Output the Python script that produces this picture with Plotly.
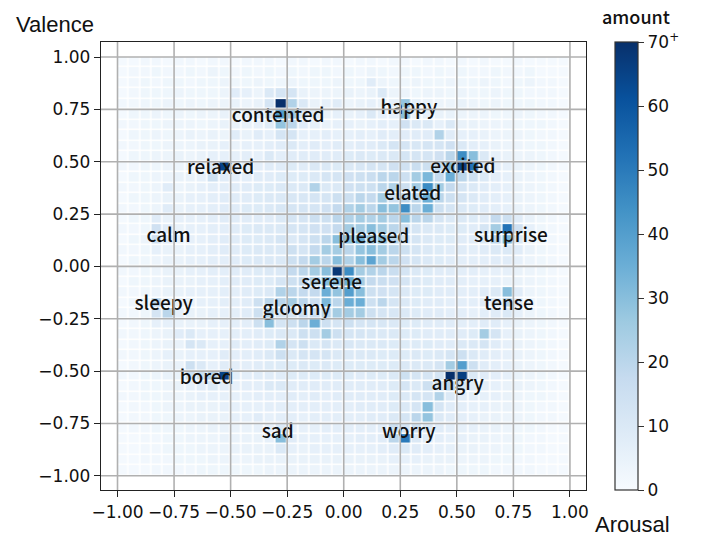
import plotly.graph_objects as go

# ---- data -------------------------------------------------------------
# bin centres (Arousal on x, Valence on y), 40 x 40 grid of width 0.05
arousal_centers = [round(-0.975 + 0.05 * i, 3) for i in range(40)]
valence_centers_top_down = [round(0.975 - 0.05 * k, 3) for k in range(40)]

# counts per cell, rows listed from top (valence 0.975) to bottom (-0.975)
counts_top_down = [
    [1,1,2,2,1,2,2,1,2,2,1,2,2,2,1,2,2,1,2,2,1,2,2,1,2,2,1,2,2,1,2,1,2,1,1,2,1,1,1,1],
    [1,2,2,3,2,2,3,2,4,3,2,3,2,3,2,3,2,3,3,2,3,2,4,3,2,3,3,2,3,2,3,2,2,3,2,2,3,1,1,1],
    [1,2,3,2,3,3,2,3,3,4,3,3,4,3,3,4,3,3,3,4,3,3,8,4,3,3,4,3,3,4,3,3,4,3,2,3,4,2,2,1],
    [1,2,3,3,3,4,3,3,3,4,8,6,4,10,12,12,5,4,4,4,5,4,5,10,4,4,3,4,4,3,4,3,3,4,3,3,2,2,2,1],
    [2,2,3,3,4,3,4,3,4,4,5,4,5,12,72,22,10,5,6,8,4,5,6,5,6,28,6,5,4,4,5,4,3,4,3,3,3,2,2,1],
    [1,3,3,4,3,4,3,4,4,5,4,5,8,12,40,25,10,8,5,6,5,6,10,6,6,30,5,6,5,5,4,4,4,3,3,4,3,2,2,1],
    [2,2,3,3,4,4,4,3,4,5,5,5,6,8,28,20,8,6,5,6,6,5,6,7,6,14,10,10,6,10,5,5,4,4,4,3,3,3,2,1],
    [1,3,3,4,3,4,5,4,5,4,8,5,8,6,12,12,6,6,7,6,6,7,6,8,7,8,8,8,22,8,6,6,5,4,4,4,3,2,2,1],
    [2,2,3,3,4,4,4,5,5,6,5,6,6,7,8,10,7,8,7,8,7,8,8,10,12,12,11,12,12,14,10,7,6,5,4,4,3,3,2,1],
    [1,3,3,4,4,5,4,5,6,6,6,7,6,10,7,8,8,8,8,8,9,10,9,10,10,12,12,12,14,20,45,30,10,6,5,4,4,3,2,1],
    [2,2,3,3,4,4,5,6,10,65,8,7,7,8,8,9,8,10,10,9,10,11,12,12,14,14,16,15,18,30,65,52,12,8,6,5,4,3,2,1],
    [1,3,3,4,4,5,5,6,15,8,7,7,8,8,9,9,9,10,12,12,14,15,16,20,20,15,25,32,18,35,20,15,10,7,6,5,4,3,2,1],
    [2,2,3,4,8,4,5,6,7,7,8,8,9,9,10,10,10,22,10,10,14,15,15,20,22,15,25,45,25,18,12,10,8,7,6,5,4,3,2,1],
    [1,3,3,4,5,5,6,6,7,8,8,8,9,10,10,11,11,12,12,15,15,20,18,25,15,20,20,35,20,15,12,10,8,7,6,5,4,3,2,1],
    [2,2,3,4,8,5,6,6,7,8,8,9,9,10,11,12,12,12,14,18,22,25,20,30,28,45,20,35,15,12,10,9,8,7,6,5,4,3,2,1],
    [1,3,3,8,5,6,6,6,7,8,8,8,8,8,10,12,12,15,15,20,22,25,22,25,20,30,20,20,12,10,10,9,8,18,15,8,5,3,2,1],
    [2,2,3,14,8,5,6,6,7,7,8,9,10,10,10,12,12,14,14,18,25,25,30,25,20,15,12,10,10,9,9,8,12,25,52,14,6,3,2,1],
    [1,3,4,14,8,5,6,6,7,8,8,9,9,10,12,10,12,15,20,30,30,35,28,30,20,14,12,10,9,9,8,8,10,20,32,10,5,3,2,1],
    [2,2,3,6,5,5,6,6,7,8,8,9,10,10,10,15,12,18,25,25,20,28,30,25,20,15,12,10,9,8,8,7,8,10,10,8,5,3,2,1],
    [1,3,3,4,5,5,6,6,7,7,8,9,10,10,10,15,18,25,20,30,22,30,38,25,20,14,12,10,9,8,7,7,7,8,8,6,4,3,2,1],
    [2,2,3,4,5,5,6,6,7,7,8,8,9,10,10,18,20,25,30,68,45,25,22,20,16,12,10,9,8,8,7,7,6,6,6,5,4,3,2,1],
    [1,3,3,4,5,5,5,6,6,7,8,8,9,9,12,15,18,22,30,30,35,25,18,16,14,12,10,9,8,8,7,6,6,6,5,5,4,3,2,1],
    [2,2,3,4,5,5,6,6,6,7,7,8,9,10,22,20,18,18,35,28,40,30,15,14,12,10,9,9,8,8,7,7,8,10,30,8,4,3,2,1],
    [1,3,3,20,6,5,5,6,6,7,7,8,15,20,20,25,20,15,32,20,35,35,15,20,12,10,9,8,8,7,7,7,8,10,20,8,4,3,2,1],
    [2,2,3,12,20,6,5,5,6,6,7,8,15,22,12,12,15,15,20,25,25,25,15,12,11,10,9,8,8,7,7,6,7,8,10,6,4,3,2,1],
    [1,2,3,6,6,5,5,5,6,6,7,7,15,30,12,15,20,35,15,12,15,12,12,11,10,9,9,8,8,8,7,7,8,8,6,5,4,3,2,1],
    [2,2,3,4,5,8,10,6,6,6,7,7,8,9,10,10,15,15,25,15,12,12,11,10,10,9,9,8,8,8,8,9,25,12,6,5,4,3,2,1],
    [1,2,3,4,5,5,12,10,6,6,8,7,8,9,22,12,15,10,12,10,11,10,10,10,9,9,9,9,8,8,10,10,12,8,6,5,4,3,2,1],
    [2,2,3,4,6,5,6,6,6,8,7,7,8,10,15,10,12,12,12,10,10,10,10,9,9,9,10,9,10,12,15,10,8,7,6,5,4,3,2,1],
    [1,2,3,4,5,5,15,10,6,8,7,7,8,9,9,9,10,9,10,9,9,9,9,9,9,10,10,10,12,25,40,15,8,7,6,5,4,3,2,1],
    [2,2,3,4,5,5,15,15,20,65,7,7,8,8,8,9,9,9,9,9,9,8,9,9,10,15,12,12,12,72,66,10,8,7,6,5,4,3,2,1],
    [1,2,3,3,4,5,6,8,10,8,6,7,7,10,10,8,8,8,8,8,8,8,8,8,9,12,10,15,12,20,12,8,7,6,5,5,4,3,2,1],
    [2,2,3,3,4,4,5,6,6,6,6,6,7,7,7,8,7,8,7,8,8,8,8,8,9,10,12,12,22,10,8,7,6,6,5,4,3,3,2,1],
    [1,2,2,3,4,4,5,5,5,6,6,6,6,7,7,7,7,7,7,7,7,8,8,8,9,10,12,30,12,8,7,6,6,5,5,4,3,2,2,1],
    [1,2,2,3,3,4,4,5,5,5,6,6,8,6,7,7,6,7,7,7,7,7,8,8,10,12,20,28,10,8,7,6,5,5,4,4,3,2,2,1],
    [1,2,2,3,3,3,4,4,5,5,5,5,6,6,10,6,6,6,7,7,7,7,7,8,15,12,15,10,8,7,6,6,5,5,4,3,3,2,1,1],
    [1,1,2,2,3,3,4,4,4,5,5,5,5,6,30,8,6,6,6,6,6,7,7,8,20,50,10,8,7,6,6,5,5,4,4,3,2,2,1,1],
    [1,1,2,2,3,3,3,4,4,4,5,5,5,5,10,6,5,6,6,6,6,6,6,7,8,10,8,7,6,6,5,5,4,4,3,3,2,2,1,1],
    [1,1,2,2,2,3,3,3,4,4,4,4,5,5,5,5,5,5,5,5,5,5,5,5,6,6,6,5,5,5,4,4,4,3,3,2,2,1,1,1],
    [1,1,1,2,2,2,2,3,3,3,3,3,3,4,4,4,4,4,4,4,4,4,4,4,4,4,4,4,4,3,3,3,3,2,2,2,2,1,1,1],
]

emotions = ["contented", "happy", "relaxed", "excited", "elated", "calm", "pleased",
            "surprise", "serene", "sleepy", "gloomy", "tense", "bored", "angry", "sad", "worry"]
emotion_arousal = [-0.29, 0.288, -0.544, 0.527, 0.305, -0.774, 0.133,
                   0.739, -0.053, -0.796, -0.208, 0.730, -0.606, 0.504, -0.292, 0.288]
emotion_valence = [0.711, 0.749, 0.463, 0.468, 0.339, 0.139, 0.134,
                   0.139, -0.086, -0.186, -0.210, -0.186, -0.539, -0.567, -0.796, -0.796]

tick_vals = [-1.0, -0.75, -0.5, -0.25, 0.0, 0.25, 0.5, 0.75, 1.0]
tick_text = ["\u22121.00", "\u22120.75", "\u22120.50", "\u22120.25", "0.00",
             "0.25", "0.50", "0.75", "1.00"]
cbar_vals = [0, 10, 20, 30, 40, 50, 60, 70]
cbar_text = ["0", "10", "20", "30", "40", "50", "60", "70<sup>+</sup>"]

# ---- figure -----------------------------------------------------------
blues = [[0.0, "#f7fbff"], [0.125, "#deebf7"], [0.25, "#c6dbef"], [0.375, "#9ecae1"],
         [0.5, "#6baed6"], [0.625, "#4292c6"], [0.75, "#2171b5"], [0.875, "#08519c"],
         [1.0, "#08306b"]]

valence_centers = valence_centers_top_down[::-1]
counts = counts_top_down[::-1]

TICKFONT = dict(family="DejaVu Sans, sans-serif", size=17, color="#111")
LABELFONT = dict(family="Noto Sans CJK SC, Noto Sans, sans-serif", size=19, color="#111",
                 weight=500)

fig = go.Figure()
fig.add_trace(go.Heatmap(
    x=arousal_centers, y=valence_centers, z=counts,
    zmin=0, zmax=70, colorscale=blues, xgap=1.5, ygap=1.5,
    colorbar=dict(
        thickness=23, len=1.0, lenmode="fraction", x=1.06, xanchor="left", xpad=0,
        y=0.5, yanchor="middle", ypad=0,
        outlinecolor="#333", outlinewidth=1.2,
        tickvals=cbar_vals, ticktext=cbar_text, ticks="outside", ticklen=6,
        tickcolor="#333", tickfont=TICKFONT,
    ),
    hoverinfo="skip",
))
fig.add_trace(go.Scatter(
    x=emotion_arousal, y=emotion_valence, mode="text", text=emotions,
    textposition="middle center", textfont=LABELFONT, showlegend=False, hoverinfo="skip",
))

shapes = []
for v in tick_vals:
    shapes.append(dict(type="line", xref="x", yref="paper", x0=v, x1=v, y0=0, y1=1,
                       line=dict(color="#b0b0b0", width=1.6), layer="above"))
    shapes.append(dict(type="line", xref="paper", yref="y", x0=0, x1=1, y0=v, y1=v,
                       line=dict(color="#b0b0b0", width=1.6), layer="above"))

axis_common = dict(
    tickvals=tick_vals, ticktext=tick_text, showgrid=False, zeroline=False,
    showline=True, mirror=True, linecolor="#222", linewidth=1.3,
    ticks="outside", ticklen=6, tickcolor="#222", tickwidth=1.2, tickfont=TICKFONT,
)
fig.update_layout(
    width=709, height=537,
    margin=dict(l=101, r=123, t=42, b=47, autoexpand=False),
    plot_bgcolor="white", paper_bgcolor="white",
    xaxis=dict(range=[-1.073, 1.071], **axis_common),
    yaxis=dict(range=[-1.068, 1.072], **axis_common),
    shapes=shapes,
    showlegend=False,
    annotations=[
        dict(text="Valence", xref="paper", yref="paper", x=-0.095, y=1.038,
             showarrow=False, xanchor="center", yanchor="middle",
             font=dict(family="Liberation Sans, Arial, sans-serif", size=22, color="#111")),
        dict(text="Arousal", xref="paper", yref="paper", x=1.095, y=-0.078,
             showarrow=False, xanchor="center", yanchor="middle",
             font=dict(family="Liberation Sans, Arial, sans-serif", size=22, color="#111")),
        dict(text="amount", xref="paper", yref="paper", x=1.103, y=1.058,
             showarrow=False, xanchor="center", yanchor="middle",
             font=dict(family="Noto Sans CJK SC, Noto Sans, sans-serif", size=18,
                       color="#111", weight=500)),
    ],
)
fig.write_html("out.html", config={"displayModeBar": False},
               post_script="document.body.style.margin='0';")
